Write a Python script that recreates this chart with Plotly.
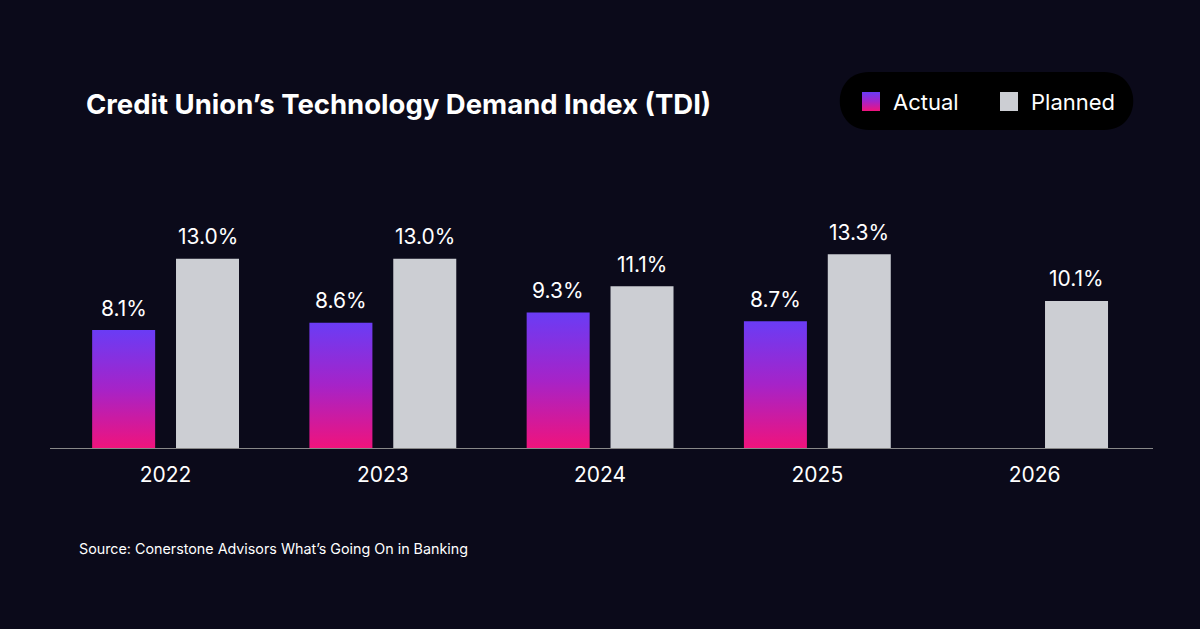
import plotly.graph_objects as go

years = ["2022", "2023", "2024", "2025", "2026"]
actual = [8.1, 8.6, 9.3, 8.7, None]
planned = [13.0, 13.0, 11.1, 13.3, 10.1]

BG = "#0b0a1a"
W_BAR = 0.29
GAP = 0.048
GRAD = [[0, "#f0137c"], [0.5, "#a623c8"], [1, "#6a3cf5"]]
FONT = "Inter"
fig = go.Figure()

for i, v in enumerate(actual):
    if v is None:
        continue
    x0, x1 = i - GAP - W_BAR, i - GAP
    fig.add_trace(go.Scatter(
        x=[x0, x1, x1, x0, x0], y=[0, 0, v, v, 0], mode="lines", fill="toself",
        line=dict(width=0), fillgradient=dict(type="vertical", colorscale=GRAD),
        showlegend=False, hoverinfo="skip"))
    fig.add_annotation(x=(x0 + x1) / 2, y=v, text=f"{v:.1f}%", showarrow=False,
                       yshift=22, font=dict(size=21, color="white", family=FONT))

fig.add_trace(go.Bar(
    x=list(range(len(years))), y=planned, offset=GAP, width=W_BAR,
    marker=dict(color="#ccced3", line=dict(width=0)), showlegend=False, hoverinfo="skip"))
for i, v in enumerate(planned):
    fig.add_annotation(x=i + GAP + W_BAR / 2, y=v, text=f"{v:.1f}%", showarrow=False,
                       yshift=22, font=dict(size=21, color="white", family=FONT))

# overlay pixel-space axes for the legend pill
fig.add_trace(go.Scatter(x=[862, 880, 880, 862, 862], y=[111, 111, 92, 92, 111],
                         xaxis="x2", yaxis="y2", mode="lines", fill="toself", line=dict(width=0),
                         fillgradient=dict(type="vertical", start=111, stop=92, colorscale=GRAD),
                         showlegend=False, hoverinfo="skip"))
fig.add_shape(type="rect", xref="x2", yref="y2", x0=1000, x1=1018, y0=92, y1=111,
              fillcolor="#ccced3", line=dict(width=0))
fig.add_shape(type="path", xref="x2", yref="y2", layer="below",
              path="M 869,72 L 1104,72 C 1143,72 1143,130 1104,130 L 869,130 "
                   "C 830,130 830,72 869,72 Z", fillcolor="black", line=dict(width=0))
fig.add_annotation(xref="x2", yref="y2", x=891, y=102, text="Actual", showarrow=False,
                   xanchor="left", font=dict(size=22, color="white", family=FONT))
fig.add_annotation(xref="x2", yref="y2", x=1029, y=102, text="Planned", showarrow=False,
                   xanchor="left", font=dict(size=22, color="white", family=FONT))
fig.add_annotation(xref="x2", yref="y2", x=84, y=104, xanchor="left",
                   text="<b>Credit Union’s Technology Demand Index (TDI)</b>", showarrow=False,
                   font=dict(size=27.5, color="white", family=FONT))
fig.add_annotation(xref="x2", yref="y2", x=77, y=549, xanchor="left",
                   text="Source: Conerstone Advisors What’s Going On in Banking", showarrow=False,
                   font=dict(size=14.3, color="white", family=FONT))

fig.update_layout(
    width=1200, height=629, paper_bgcolor=BG, plot_bgcolor="rgba(0,0,0,0)",
    margin=dict(l=0, r=0, t=0, b=0), showlegend=False,
    xaxis=dict(domain=[50 / 1200, 1153 / 1200], range=[-0.532, 4.545],
               tickvals=list(range(5)), ticktext=years,
               showgrid=False, zeroline=False, showline=True, linecolor="#888",
               linewidth=1, tickfont=dict(size=21, color="white", family=FONT),
               ticks="", ticklabelstandoff=8, fixedrange=True),
    yaxis=dict(domain=[(629 - 448) / 629, (629 - 215) / 629], range=[0, 16], visible=False,
               fixedrange=True),
    xaxis2=dict(domain=[0, 1], range=[0, 1200], visible=False, anchor="y2", fixedrange=True),
    yaxis2=dict(domain=[0, 1], range=[629, 0], visible=False, anchor="x2", fixedrange=True),
    font=dict(family=FONT),
)
fig.write_html("out.html", config={"displayModeBar": False},
               post_script="document.body.style.margin='0';document.body.style.overflow='hidden';")
